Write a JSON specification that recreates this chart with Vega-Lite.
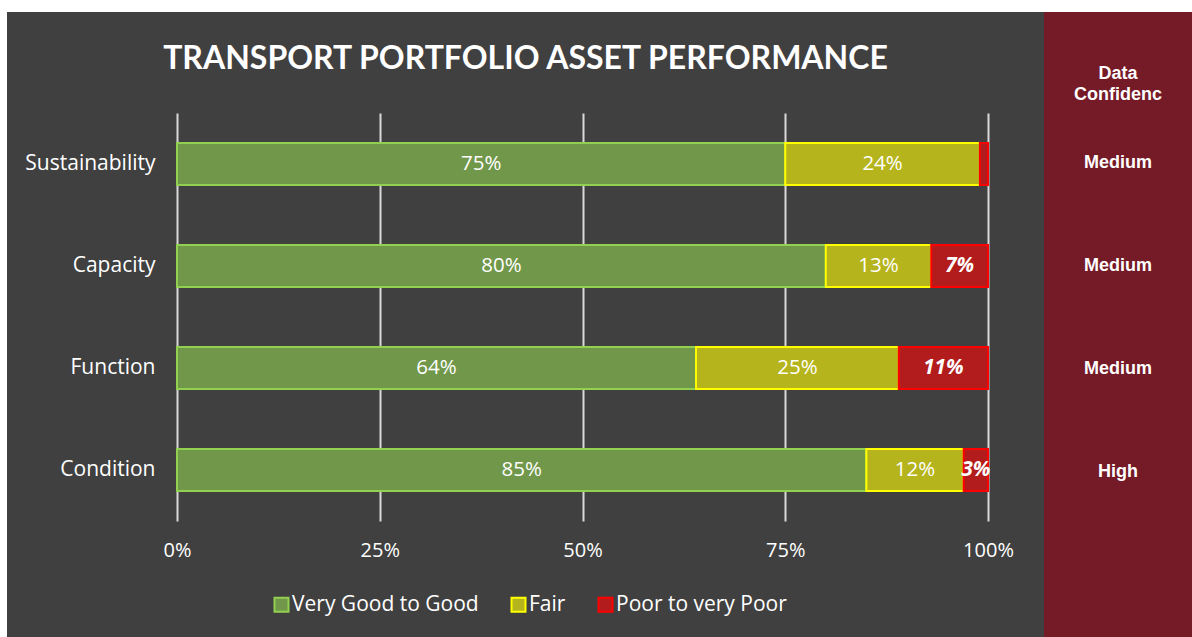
{
  "$schema": "https://vega.github.io/schema/vega-lite/v6.json",
  "background": "white",
  "padding": {"left": 7, "top": 12, "right": 0, "bottom": 0},
  "spacing": 0,
  "config": {"view": {"stroke": null}, "font": "Open Sans"},
  "hconcat": [
    {
      "width": 1037,
      "height": 625,
      "view": {"fill": "#404040", "stroke": null},
      "title": {
        "text": "TRANSPORT PORTFOLIO ASSET PERFORMANCE",
        "font": "Lato",
        "fontSize": 32,
        "fontWeight": "bold",
        "color": "white",
        "anchor": "middle",
        "frame": "group",
        "orient": "top",
        "baseline": "alphabetic",
        "offset": -89
      },
      "data": {
        "values": [
          {"metric": "Sustainability", "rating": "Very Good to Good", "rank": 1, "value": 0.75},
          {"metric": "Sustainability", "rating": "Fair", "rank": 2, "value": 0.24},
          {"metric": "Sustainability", "rating": "Poor to very Poor", "rank": 3, "value": 0.01},
          {"metric": "Capacity", "rating": "Very Good to Good", "rank": 1, "value": 0.80},
          {"metric": "Capacity", "rating": "Fair", "rank": 2, "value": 0.13},
          {"metric": "Capacity", "rating": "Poor to very Poor", "rank": 3, "value": 0.07},
          {"metric": "Function", "rating": "Very Good to Good", "rank": 1, "value": 0.64},
          {"metric": "Function", "rating": "Fair", "rank": 2, "value": 0.25},
          {"metric": "Function", "rating": "Poor to very Poor", "rank": 3, "value": 0.11},
          {"metric": "Condition", "rating": "Very Good to Good", "rank": 1, "value": 0.85},
          {"metric": "Condition", "rating": "Fair", "rank": 2, "value": 0.12},
          {"metric": "Condition", "rating": "Poor to very Poor", "rank": 3, "value": 0.03}
        ]
      },
      "encoding": {
        "y": {
          "field": "metric",
          "type": "nominal",
          "sort": ["Sustainability", "Capacity", "Function", "Condition"],
          "scale": {"range": [101, 509], "paddingInner": 0.59, "paddingOuter": 0.295},
          "axis": {
            "orient": "left",
            "offset": -170,
            "domain": false,
            "ticks": false,
            "grid": false,
            "title": null,
            "labelColor": "white",
            "labelFont": "Open Sans",
            "labelFontSize": 21,
            "labelPadding": 22
          }
        }
      },
      "layer": [
        {
          "mark": {"type": "bar", "strokeWidth": 2},
          "encoding": {
            "x": {
              "field": "value",
              "type": "quantitative",
              "stack": "zero",
              "scale": {"domain": [0, 1], "range": [170, 981], "nice": false, "zero": true},
              "axis": {
                "orient": "top",
                "offset": -560,
                "values": [0, 0.25, 0.5, 0.75, 1],
                "format": ".0%",
                "domain": false,
                "ticks": false,
                "grid": true,
                "gridColor": "#d9d9d9",
                "gridWidth": 2,
                "labelColor": "white",
                "labelFont": "Open Sans",
                "labelFontSize": 20,
                "labelPadding": 12,
                "labelFlush": false,
                "title": null
              }
            },
            "order": {"field": "rank", "type": "quantitative"},
            "color": {
              "field": "rating",
              "type": "nominal",
              "scale": {
                "domain": ["Very Good to Good", "Fair", "Poor to very Poor"],
                "range": ["#71974a", "#b5b41c", "#b21c1c"]
              },
              "legend": {
                "orient": "none",
                "legendX": 264,
                "legendY": 582,
                "direction": "horizontal",
                "title": null,
                "padding": 0,
                "symbolType": "square",
                "symbolSize": 196,
                "symbolStrokeWidth": 2,
                "symbolOpacity": 1,
                "labelColor": "white",
                "labelFont": "Open Sans",
                "labelFontSize": 21,
                "labelOffset": 0,
                "columnPadding": 28,
                "labelLimit": 400
              }
            },
            "stroke": {
              "field": "rating",
              "type": "nominal",
              "scale": {
                "domain": ["Very Good to Good", "Fair", "Poor to very Poor"],
                "range": ["#92d050", "#ffff00", "#ff0000"]
              },
              "legend": {
                "orient": "none",
                "legendX": 264,
                "legendY": 582,
                "direction": "horizontal",
                "title": null,
                "padding": 0,
                "symbolType": "square",
                "symbolSize": 196,
                "symbolStrokeWidth": 2,
                "symbolOpacity": 1,
                "labelColor": "white",
                "labelFont": "Open Sans",
                "labelFontSize": 21,
                "labelOffset": 0,
                "columnPadding": 28,
                "labelLimit": 400
              }
            }
          }
        },
        {
          "mark": {"type": "text", "color": "white", "font": "Open Sans", "fontSize": 20.5, "baseline": "middle"},
          "encoding": {
            "x": {"field": "value", "type": "quantitative", "stack": "zero", "bandPosition": 0.5},
            "order": {"field": "rank", "type": "quantitative"},
            "detail": {"field": "rating", "type": "nominal"},
            "text": {
              "condition": {"test": "datum.rating != 'Poor to very Poor'", "field": "value", "type": "quantitative", "format": ".0%"},
              "value": ""
            }
          }
        },
        {
          "mark": {"type": "text", "color": "white", "font": "Open Sans", "fontSize": 20.5, "fontWeight": "bold", "fontStyle": "italic", "baseline": "middle"},
          "encoding": {
            "x": {"field": "value", "type": "quantitative", "stack": "zero", "bandPosition": 0.5},
            "order": {"field": "rank", "type": "quantitative"},
            "detail": {"field": "rating", "type": "nominal"},
            "text": {
              "condition": {"test": "datum.rating == 'Poor to very Poor' && datum.value > 0.02", "field": "value", "type": "quantitative", "format": ".0%"},
              "value": ""
            }
          }
        }
      ]
    },
    {
      "width": 148,
      "height": 625,
      "view": {"fill": "#751a27", "stroke": null},
      "title": {
        "text": ["Data", "Confidenc"],
        "font": "Liberation Sans",
        "fontSize": 18,
        "fontWeight": "bold",
        "color": "white",
        "anchor": "middle",
        "frame": "group",
        "orient": "top",
        "baseline": "alphabetic",
        "lineHeight": 21,
        "offset": -106
      },
      "data": {
        "values": [
          {"metric": "Sustainability", "confidence": "Medium"},
          {"metric": "Capacity", "confidence": "Medium"},
          {"metric": "Function", "confidence": "Medium"},
          {"metric": "Condition", "confidence": "High"}
        ]
      },
      "mark": {"type": "text", "color": "white", "font": "Liberation Sans", "fontSize": 18, "fontWeight": "bold", "baseline": "middle"},
      "encoding": {
        "y": {
          "field": "metric",
          "type": "nominal",
          "sort": ["Sustainability", "Capacity", "Function", "Condition"],
          "scale": {"range": [99, 511], "paddingInner": 0.59, "paddingOuter": 0.295},
          "axis": null
        },
        "text": {"field": "confidence", "type": "nominal"}
      }
    }
  ]
}
